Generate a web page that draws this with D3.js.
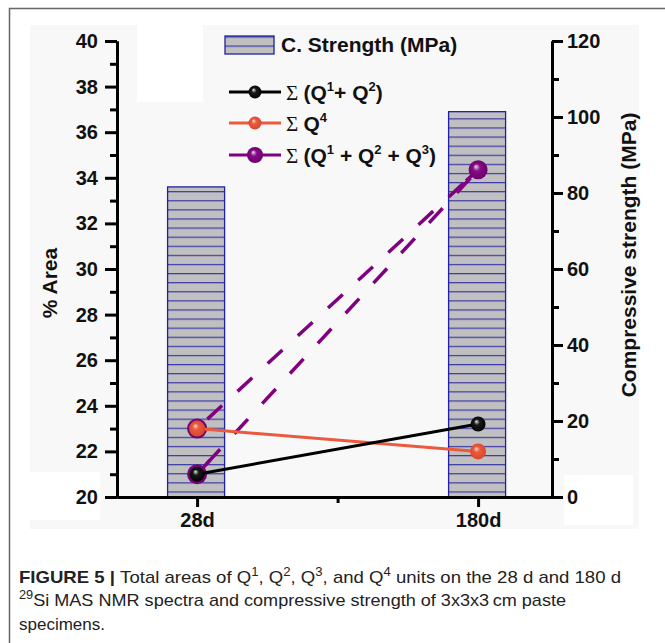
<!DOCTYPE html>
<html>
<head>
<meta charset="utf-8">
<script src="https://cdn.jsdelivr.net/npm/d3@7"></script>
<style>
  body { margin: 0; background: #fff; }
  svg { display: block; }
  .tick text { font-family: "Liberation Sans", Arial, sans-serif; font-weight: bold; font-size: 20px; fill: #111; }
</style>
</head>
<body>
<svg width="665" height="643"></svg>
<script>
// chart values
const days = ['28d', '180d'];
const strength = [81.6, 101.4];           // C. Strength (MPa), right axis
const q12 = [21.0, 23.2];                 // Σ (Q1 + Q2)
const q4 = [23.0, 22.0];                  // Σ Q4
const q123 = [23.0, 34.35];               // Σ (Q1 + Q2 + Q3), drawn from the Q4 point
const q123b = [21.0, 34.35];              // ... and again from the Q1+Q2 point
const leftTicks = [20, 22, 24, 26, 28, 30, 32, 34, 36, 38, 40];
const rightTicks = [0, 20, 40, 60, 80, 100, 120];

const svg = d3.select('svg');

// frame + backgrounds
svg.append('rect').attr('x', 30).attr('y', 25).attr('width', 609).attr('height', 504).attr('fill', '#f8f8f8');
svg.append('rect').attr('x', 137).attr('y', 25).attr('width', 66).attr('height', 77).attr('fill', '#fff');
svg.append('rect').attr('x', 30).attr('y', 472).attr('width', 70).attr('height', 48).attr('fill', '#fff');
svg.append('rect').attr('x', 564).attr('y', 475).attr('width', 69).attr('height', 50).attr('fill', '#fff');
svg.append('path').attr('d', 'M9.5,643 V8.5 H665').attr('fill', 'none').attr('stroke', '#666').attr('stroke-width', 1.5);

// scales
const x = d3.scaleLinear().domain([-0.285, 1.263]).range([117, 552]);
const yL = d3.scaleLinear().domain([20, 40]).range([497, 41]);
const yR = d3.scaleLinear().domain([0, 120]).range([497, 41]);

// defs: hatch + sphere gradients
const defs = svg.append('defs');
const pat = defs.append('pattern').attr('id', 'hatch').attr('patternUnits', 'userSpaceOnUse')
  .attr('width', 10).attr('height', 9.1).attr('y', 0);
pat.append('rect').attr('width', 10).attr('height', 9.1).attr('fill', '#c0c0c0');
pat.append('line').attr('x1', 0).attr('x2', 10).attr('y1', 0.6).attr('y2', 0.6)
  .attr('stroke', '#3a3aa8').attr('stroke-width', 1.2);

function sphere(id, hi, mid, dark) {
  const g = defs.append('radialGradient').attr('id', id)
    .attr('cx', '50%').attr('cy', '50%').attr('r', '55%').attr('fx', '38%').attr('fy', '32%');
  g.append('stop').attr('offset', '0%').attr('stop-color', hi);
  g.append('stop').attr('offset', '35%').attr('stop-color', mid);
  g.append('stop').attr('offset', '100%').attr('stop-color', dark);
}
sphere('gBlack', '#e8e8e8', '#1a1a1a', '#000');
sphere('gOrange', '#ffd8cc', '#ea5a3e', '#d8452a');
sphere('gPurple', '#e8e0ea', '#860a86', '#6a006a');

// bars
const barW = 57;
svg.selectAll('.bar').data(strength).enter().append('rect')
  .attr('class', 'bar')
  .attr('x', (d, i) => x(i) - barW / 2 - 1)
  .attr('y', d => yR(d))
  .attr('width', barW)
  .attr('height', d => yR(0) - yR(d))
  .attr('fill', 'url(#hatch)')
  .attr('stroke', '#2020a0').attr('stroke-width', 1.3);

// purple dashed lines
const line = d3.line().x((d, i) => x(i)).y(d => yL(d));
[q123, q123b].forEach(s => {
  svg.append('path').attr('d', line(s)).attr('fill', 'none')
    .attr('stroke', '#800080').attr('stroke-width', 3.5)
    .attr('stroke-dasharray', '20,21').attr('stroke-dashoffset', -14);
});
// short stubs next to the markers
svg.append('path').attr('d', line(q123b)).attr('fill', 'none')
  .attr('stroke', '#800080').attr('stroke-width', 3.5).attr('stroke-dasharray', '19,400');
const p180 = [x(1), yL(q123[1])];
svg.append('line').attr('x1', p180[0]).attr('y1', p180[1])
  .attr('x2', p180[0] - 12).attr('y2', p180[1] + 11)
  .attr('stroke', '#800080').attr('stroke-width', 3.5);

// purple markers
svg.selectAll('.pm').data([q123[0], q123b[0]]).enter().append('circle')
  .attr('cx', x(0)).attr('cy', d => yL(d)).attr('r', 10).attr('fill', 'url(#gPurple)');
svg.append('circle').attr('cx', x(1)).attr('cy', yL(q123[1])).attr('r', 9.5).attr('fill', 'url(#gPurple)');

// black and orange lines
svg.append('path').attr('d', line(q4)).attr('fill', 'none').attr('stroke', '#ea5a3e').attr('stroke-width', 3);
svg.append('path').attr('d', line(q12)).attr('fill', 'none').attr('stroke', '#000').attr('stroke-width', 3);
svg.selectAll('.om').data(q4).enter().append('circle')
  .attr('cx', (d, i) => x(i)).attr('cy', d => yL(d)).attr('r', 8).attr('fill', 'url(#gOrange)');
svg.selectAll('.bm').data(q12).enter().append('circle')
  .attr('cx', (d, i) => x(i)).attr('cy', d => yL(d)).attr('r', 7.5).attr('fill', 'url(#gBlack)');

// axes
function styleAxis(g) {
  g.selectAll('path, line').attr('stroke', '#000').attr('stroke-width', 3);
}
const minorL = d3.range(21, 40, 2);
svg.append('g').attr('transform', 'translate(117,0)')
  .call(d3.axisLeft(yL).tickValues(minorL).tickSize(7).tickFormat('').tickSizeOuter(0)).call(styleAxis);
svg.append('g').attr('transform', 'translate(117,0)')
  .call(d3.axisLeft(yL).tickValues(leftTicks).tickSize(12).tickPadding(7).tickSizeOuter(0)).call(styleAxis);

const minorR = d3.range(10, 120, 20);
svg.append('g').attr('transform', 'translate(552,0)')
  .call(d3.axisRight(yR).tickValues(minorR).tickSize(7).tickFormat('').tickSizeOuter(0)).call(styleAxis);
svg.append('g').attr('transform', 'translate(552,0)')
  .call(d3.axisRight(yR).tickValues(rightTicks).tickSize(11).tickPadding(4).tickSizeOuter(0)).call(styleAxis);

svg.append('g').attr('transform', 'translate(0,497)')
  .call(d3.axisBottom(x).tickValues([0.5]).tickSize(6).tickFormat('').tickSizeOuter(0)).call(styleAxis);
svg.append('g').attr('transform', 'translate(0,497)')
  .call(d3.axisBottom(x).tickValues([0, 1]).tickSize(10).tickPadding(6).tickSizeOuter(0)
    .tickFormat(i => days[i])).call(styleAxis);

// axis titles
const bold = '"Liberation Sans", Arial, sans-serif';
svg.append('text').attr('transform', 'translate(57,283) rotate(-90)')
  .attr('text-anchor', 'middle').attr('font-family', bold).attr('font-weight', 'bold')
  .attr('font-size', 21).attr('fill', '#111').text('% Area');
svg.append('text').attr('transform', 'translate(636,255) rotate(-90)')
  .attr('text-anchor', 'middle').attr('font-family', bold).attr('font-weight', 'bold')
  .attr('font-size', 21).attr('fill', '#111').text('Compressive strength (MPa)');

// legend
const leg = svg.append('g');
leg.append('rect').attr('x', 225).attr('y', 36).attr('width', 49).attr('height', 18)
  .attr('fill', 'url(#hatch)').attr('stroke', '#2020a0').attr('stroke-width', 1.3);
leg.append('text').attr('x', 281).attr('y', 52).attr('font-family', bold).attr('font-weight', 'bold')
  .attr('font-size', 21).attr('fill', '#111').text('C. Strength (MPa)');

const legRows = [
  { color: '#000', grad: 'gBlack', r: 6.5, y: 92, parts: [['(Q', 0], ['1', 1], ['+ Q', 0], ['2', 1], [')', 0]] },
  { color: '#ea5a3e', grad: 'gOrange', r: 6.5, y: 123, parts: [['Q', 0], ['4', 1]] },
  { color: '#800080', grad: 'gPurple', r: 8, y: 155, parts: [['(Q', 0], ['1', 1], [' + Q', 0], ['2', 1], [' + Q', 0], ['3', 1], [')', 0]] }
];
legRows.forEach(row => {
  leg.append('line').attr('x1', 229).attr('x2', 281).attr('y1', row.y).attr('y2', row.y)
    .attr('stroke', row.color).attr('stroke-width', 3);
  leg.append('circle').attr('cx', 255).attr('cy', row.y).attr('r', row.r).attr('fill', `url(#${row.grad})`);
  const t = leg.append('text').attr('x', 286).attr('y', row.y + 8).attr('font-size', 21)
    .attr('font-family', bold).attr('font-weight', 'bold').attr('fill', '#111');
  t.append('tspan').attr('font-family', '"Liberation Serif", serif').attr('font-weight', 'normal').text('Σ ');
  let up = false;
  row.parts.forEach(p => {
    const s = t.append('tspan').text(p[0]);
    if (p[1]) { s.attr('font-size', 13).attr('dy', -9); up = true; }
    else if (up) { s.attr('dy', 9); up = false; }
  });
});

// caption
const cap = svg.append('g').attr('font-family', '"Liberation Sans Narrow", "Liberation Sans", Arial, sans-serif')
  .attr('fill', '#222').attr('font-size', 17);
function capLine(y, parts, len) {
  const t = cap.append('text').attr('x', 19).attr('y', y);
  let up = false;
  parts.forEach(p => {
    const s = t.append('tspan').text(p.t);
    if (p.b) s.attr('font-weight', 'bold');
    if (p.sup && !up) { s.attr('dy', -7).attr('font-size', 12); up = true; }
    else if (!p.sup && up) { s.attr('dy', 7); up = false; }
    else if (p.sup) s.attr('font-size', 12);
  });
  if (len) t.attr('textLength', len).attr('lengthAdjust', 'spacingAndGlyphs');
}
capLine(583, [{ t: 'FIGURE 5 | ', b: 1 }, { t: 'Total areas of Q' }, { t: '1', sup: 1 }, { t: ', Q' }, { t: '2', sup: 1 },
  { t: ', Q' }, { t: '3', sup: 1 }, { t: ', and Q' }, { t: '4', sup: 1 }, { t: ' units on the 28 d and 180 d' }], 602);
capLine(606, [{ t: '29', sup: 1 }, { t: 'Si MAS NMR spectra and compressive strength of 3x3x3\u2009cm paste' }], 547);
capLine(630, [{ t: 'specimens.' }]);
</script>
</body>
</html>
